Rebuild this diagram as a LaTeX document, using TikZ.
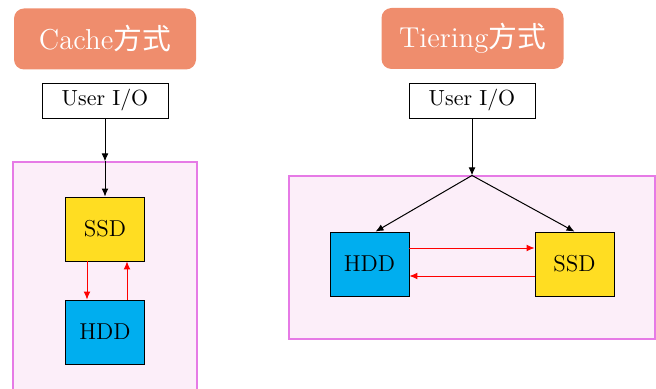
\documentclass[tikz,border=0pt]{standalone}
\usepackage{fontspec}
\newfontfamily\cjk{Noto Sans CJK SC}
\usetikzlibrary{arrows.meta}
\definecolor{titlebg}{HTML}{EF8D6D}
\definecolor{contfill}{HTML}{FCEEF9}
\definecolor{contline}{HTML}{E67AE6}
\definecolor{ssdcol}{HTML}{FFDD22}
\definecolor{hddcol}{HTML}{00AEEF}
\tikzset{
  titlebox/.style={fill=titlebg, rounded corners=5pt, text=white, font=\Large, minimum width=91pt, minimum height=30.5pt, inner sep=0pt},
  userbox/.style={draw=black, fill=white, minimum width=63pt, minimum height=17.5pt, inner sep=0pt, font=\fontsize{10.95}{13}\selectfont},
  contbox/.style={draw=contline, fill=contfill, line width=0.55pt, inner sep=0pt},
  ssdbox/.style={draw=black, fill=ssdcol, minimum width=39.5pt, minimum height=32pt, inner sep=0pt, font=\fontsize{11.5}{13}\selectfont},
  hddbox/.style={draw=black, fill=hddcol, minimum width=39.5pt, minimum height=32pt, inner sep=0pt, font=\fontsize{11.5}{13}\selectfont},
  arr/.style={-{Latex[length=4pt,width=3.4pt]}, black, line width=0.5pt},
  rarr/.style={-{Latex[length=4pt,width=3.4pt]}, red, line width=0.5pt}
}
\begin{document}
\begin{tikzpicture}[x=0.5pt,y=-0.5pt]
\clip (0,0) rectangle (656,389);
% left: cache
\node[titlebox] (t1) at (105,39) {Cache{\cjk 方式}};
\node[userbox] (u1) at (105,100.5) {User I/O};
\node[contbox, minimum width=92pt, minimum height=119pt] (c1) at (105,281) {};
\node[ssdbox] (ssd1) at (105,229) {SSD};
\node[hddbox] (hdd1) at (105,332) {HDD};
\draw[arr] (u1.south) -- (c1.north);
\draw[arr] (c1.north) -- (ssd1.north);
\draw[rarr] ([xshift=-9pt]ssd1.south) -- ([xshift=-9pt]hdd1.north);
\draw[rarr] ([xshift=11pt]hdd1.north) -- ([xshift=11pt]ssd1.south);
% right: tiering
\node[titlebox] (t2) at (472.5,38.5) {Tiering{\cjk 方式}};
\node[userbox] (u2) at (472,100.5) {User I/O};
\node[contbox, minimum width=183pt, minimum height=81.5pt] (c2) at (472,257.5) {};
\node[hddbox] (hdd2) at (369.5,264) {HDD};
\node[ssdbox] (ssd2) at (574.5,264) {SSD};
\draw[arr] (u2.south) -- (c2.north);
\draw[arr] (c2.north) -- ([xshift=3pt]hdd2.north);
\draw[arr] (c2.north) -- (ssd2.north);
\draw[rarr] ([yshift=8pt]hdd2.east) -- ([yshift=8pt]ssd2.west);
\draw[rarr] ([yshift=-6pt]ssd2.west) -- ([yshift=-6pt]hdd2.east);
\end{tikzpicture}
\end{document}
